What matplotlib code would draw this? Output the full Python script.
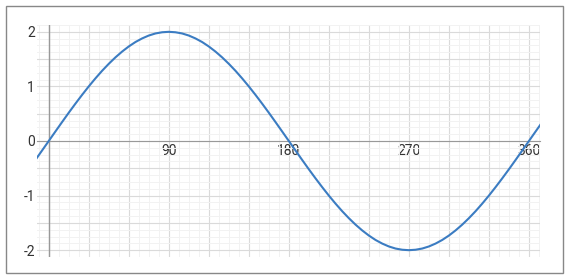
import numpy as np
import matplotlib.pyplot as plt
from matplotlib.patches import Rectangle

plt.rcParams['font.family'] = ['Roboto', 'DejaVu Sans']

# angle in degrees and the curve value
angles = list(range(-10, 375, 5))
values = [-0.347, -0.174,
          0.000, 0.174, 0.347, 0.518, 0.684, 0.845, 1.000, 1.147, 1.286, 1.414, 1.532, 1.638, 1.732, 1.813, 1.879, 1.932, 1.970, 1.992,
          2.000, 1.992, 1.970, 1.932, 1.879, 1.813, 1.732, 1.638, 1.532, 1.414, 1.286, 1.147, 1.000, 0.845, 0.684, 0.518, 0.347, 0.174,
          0.000, -0.174, -0.347, -0.518, -0.684, -0.845, -1.000, -1.147, -1.286, -1.414, -1.532, -1.638, -1.732, -1.813, -1.879, -1.932, -1.970, -1.992,
          -2.000, -1.992, -1.970, -1.932, -1.879, -1.813, -1.732, -1.638, -1.532, -1.414, -1.286, -1.147, -1.000, -0.845, -0.684, -0.518, -0.347, -0.174,
          0.000, 0.174, 0.347]

x_ticks = [0, 30, 60, 90, 120, 150, 180, 210, 240, 270, 300, 330, 360]
x_tick_labels = ['', '', '', '90', '', '', '180', '', '', '270', '', '', '360']
y_ticks = [-2, -1.5, -1, -0.5, 0, 0.5, 1, 1.5, 2]
y_tick_labels = ['-2', '', '-1', '', '0', '', '1', '', '2']

fig = plt.figure(figsize=(5.68, 2.78), dpi=100)
ax = fig.add_axes([37 / 568, 1 - 257 / 278, 503 / 568, 232 / 278])

# outer frame around the whole chart
fig.patches.append(Rectangle((6 / 568, 1 - 273 / 278), 556.5 / 568, 267 / 278,
                             transform=fig.transFigure, fill=False,
                             edgecolor='#888888', linewidth=1))

ax.plot(angles, values, color='#3b7cc2', linewidth=1.5, zorder=3)

ax.set_xlim(-8.8, 368.3)
ax.set_ylim(-2.12, 2.12)

ax.set_xticks(x_ticks)
ax.set_xticklabels(x_tick_labels)
ax.set_xticks(np.arange(-7.5, 368, 7.5), minor=True)
ax.set_yticks(y_ticks)
ax.set_yticklabels(y_tick_labels)
ax.set_yticks(np.arange(-2.125, 2.13, 0.125), minor=True)

ax.grid(True, which='major', color='#dadada', linewidth=0.8)
ax.grid(True, which='minor', color='#f2f2f2', linewidth=0.7)
ax.set_axisbelow(True)

for side in ['top', 'right', 'left']:
    ax.spines[side].set_visible(False)
ax.spines['bottom'].set_position(('data', 0))
ax.spines['bottom'].set_color('#999999')
ax.axvline(0, color='#999999', linewidth=1, zorder=2)

ax.tick_params(axis='both', which='both', length=0, labelsize=10, labelcolor='#333333')
ax.tick_params(axis='x', pad=2.5)
ax.tick_params(axis='y', pad=1.5)

fig.savefig('out.png', dpi=100)
